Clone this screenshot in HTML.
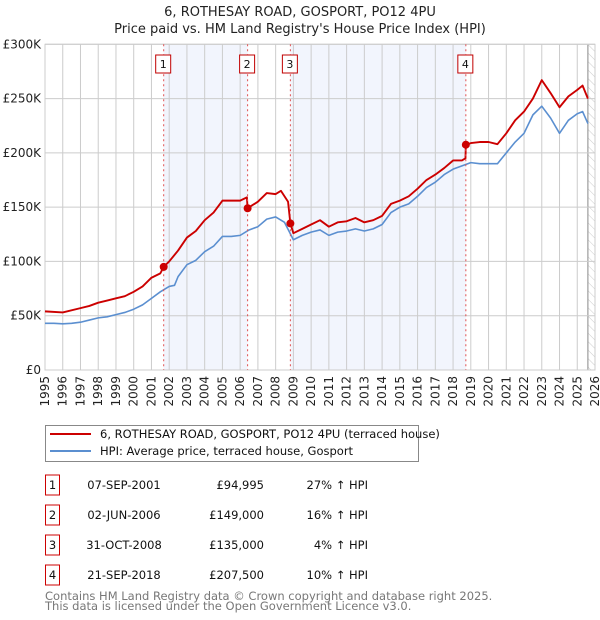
<!DOCTYPE html>
<html><head><meta charset="utf-8"><style>
html,body{margin:0;padding:0;background:#fff;}
svg{display:block;font-family:"DejaVu Sans","Liberation Sans",sans-serif;}
</style></head><body>
<svg id="chart" width="600" height="620" viewBox="0 0 600 620">
<defs>
<pattern id="hatch" width="6" height="6" patternUnits="userSpaceOnUse" patternTransform="rotate(-45)">
<line x1="0" y1="0" x2="0" y2="6" stroke="#ccc" stroke-width="1"/>
</pattern>
</defs>
<text x="300" y="16" text-anchor="middle" font-size="13" fill="#222">6, ROTHESAY ROAD, GOSPORT, PO12 4PU</text>
<text x="300" y="33" text-anchor="middle" font-size="13" fill="#222">Price paid vs. HM Land Registry's House Price Index (HPI)</text>
<g id="shade"></g>
<g id="grid"></g>
<g id="series"></g>
<g id="markers"></g>
<g id="legend">
<rect x="45.5" y="425.5" width="373" height="36" fill="#fff" stroke="#888"/>
<line x1="50" y1="434" x2="91" y2="434" stroke="#cc0000" stroke-width="2"/>
<text x="100" y="438" font-size="11.5" fill="#111">6, ROTHESAY ROAD, GOSPORT, PO12 4PU (terraced house)</text>
<line x1="50" y1="451" x2="91" y2="451" stroke="#5b8fd0" stroke-width="2"/>
<text x="100" y="455" font-size="11.5" fill="#111">HPI: Average price, terraced house, Gosport</text>
</g>
<g id="table" font-size="11.5" fill="#111"></g>
<text x="45" y="600" font-size="11.5" fill="#777">Contains HM Land Registry data © Crown copyright and database right 2025.</text>
<text x="45" y="610" font-size="11.5" fill="#777">This data is licensed under the Open Government Licence v3.0.</text>
</svg>
<script>
const hpiYears=[1995,1995.5,1996,1996.5,1997,1997.5,1998,1998.5,1999,1999.5,2000,2000.5,2001,2001.5,2002,2002.3,2002.5,2003,2003.5,2004,2004.5,2005,2005.5,2006,2006.5,2007,2007.5,2008,2008.5,2009,2009.5,2010,2010.5,2011,2011.5,2012,2012.5,2013,2013.5,2014,2014.5,2015,2015.5,2016,2016.5,2017,2017.5,2018,2018.5,2019,2019.5,2020,2020.5,2021,2021.5,2022,2022.5,2023,2023.5,2024,2024.5,2025,2025.3,2025.6];
const hpiValues=[43,43,42.5,43,44,46,48,49,51,53,56,60,66,72,77,78,86,97,101,109,114,123,123,124,129,132,139,141,136,120,124,127,129,124,127,128,130,128,130,134,145,150,153,160,168,173,180,185,188,191,190,190,190,200,210,218,235,243,232,218,230,236,238,227];
const redYears=[1995,1996,1997,1997.5,1998,1998.5,1999,1999.5,2000,2000.5,2001,2001.5,2001.69,2002,2002.5,2003,2003.5,2004,2004.5,2005,2005.5,2006,2006.38,2006.42,2007,2007.5,2008,2008.3,2008.7,2008.83,2009,2009.5,2010,2010.5,2011,2011.5,2012,2012.5,2013,2013.5,2014,2014.5,2015,2015.5,2016,2016.5,2017,2017.5,2018,2018.5,2018.7,2018.72,2019,2019.5,2020,2020.5,2021,2021.5,2022,2022.5,2023,2023.5,2024,2024.5,2025,2025.3,2025.6];
const redValues=[54,53,57,59,62,64,66,68,72,77,85,89,95,100,110,122,128,138,145,156,156,156,159,149,155,163,162,165,155,135,126,130,134,138,132,136,137,140,136,138,142,153,156,160,167,175,180,186,193,193,195,207.5,209,210,210,208,218,230,238,250,267,255,242,252,258,262,250];
const saleLabels=["1","2","3","4"];
const saleYears=[2001.69,2006.42,2008.83,2018.72];
const salePrices=[94995,149000,135000,207500];
const saleDates=["07-SEP-2001","02-JUN-2006","31-OCT-2008","21-SEP-2018"];
const salePriceText=["£94,995","£149,000","£135,000","£207,500"];
const saleHpiText=["27% ↑ HPI","16% ↑ HPI","4% ↑ HPI","10% ↑ HPI"];
const yTicks=[0,50,100,150,200,250,300];
const yTickLabels=["£0","£50K","£100K","£150K","£200K","£250K","£300K"];
const xTickYears=[1995,1996,1997,1998,1999,2000,2001,2002,2003,2004,2005,2006,2007,2008,2009,2010,2011,2012,2013,2014,2015,2016,2017,2018,2019,2020,2021,2022,2023,2024,2025,2026];

const NS="http://www.w3.org/2000/svg";
const L=45,R=595,T=44.3,B=370,X0=1995,X1=2026,YMAX=300,DATA_END=2025.6;
const xs=y=>L+(y-X0)/(X1-X0)*(R-L);
const ys=v=>B-v/YMAX*(B-T);
function mk(parent,tag,attrs){const e=document.createElementNS(NS,tag);for(const k in attrs)e.setAttribute(k,attrs[k]);document.getElementById(parent).appendChild(e);return e;}

const sh1=mk('shade','rect',{x:xs(saleYears[0]),y:T,width:xs(saleYears[1])-xs(saleYears[0]),height:B-T,fill:'#f2f5fd'});


const sh2=mk('shade','rect',{x:xs(saleYears[2]),y:T,width:xs(saleYears[3])-xs(saleYears[2]),height:B-T,fill:'#f2f5fd'});


const hz=mk('shade','rect',{x:xs(DATA_END),y:T,width:R-xs(DATA_END),height:B-T,fill:'url(#hatch)'});


const el=mk('shade','line',{x1:xs(DATA_END),y1:T,x2:xs(DATA_END),y2:B,stroke:'#888'});



xTickYears.forEach(yr=>{
  const g=mk('grid','line',{x1:xs(yr),y1:T,x2:xs(yr),y2:B,stroke:'#ccc'});
  
  
  const t=mk('grid','text',{x:0,y:0,transform:`translate(${xs(yr)+4},${B+6}) rotate(-90)`,'text-anchor':'end','font-size':'12',fill:'#222'});
  t.textContent=yr;
  
  
});
yTicks.forEach((v,i)=>{
  const g=mk('grid','line',{x1:L,y1:ys(v),x2:R,y2:ys(v),stroke:'#ccc'});
  
  
  const t=mk('grid','text',{x:L-4,y:ys(v)+4,'text-anchor':'end','font-size':'12',fill:'#222'});
  t.textContent=yTickLabels[i];
  
  
});
const fr=mk('grid','rect',{x:L,y:T,width:R-L,height:B-T,fill:'none',stroke:'#ccc'});



const hp=mk('series','polyline',{points:hpiYears.map((y,i)=>xs(y)+','+ys(hpiValues[i])).join(' '),fill:'none',stroke:'#5b8fd0','stroke-width':1.6,'stroke-linejoin':'round'});


const rp=mk('series','polyline',{points:redYears.map((y,i)=>xs(y)+','+ys(redValues[i])).join(' '),fill:'none',stroke:'#cc0000','stroke-width':1.9,'stroke-linejoin':'round'});



saleYears.forEach((yr,i)=>{
  const x=xs(yr);
  const vl=mk('markers','line',{x1:x,y1:T,x2:x,y2:B,stroke:'#e05050','stroke-dasharray':'2,3','stroke-width':1});
  
  
  const d=mk('markers','circle',{cx:x,cy:ys(salePrices[i]/1000),r:4,fill:'#cc0000'});
  
  
  const b=mk('markers','rect',{x:x-8,y:55,width:15,height:18,fill:'#fff',stroke:'#c00000'});
  
  
  const t=mk('markers','text',{x:x-0.5,y:68,'text-anchor':'middle','font-size':'11',fill:'#111'});
  t.textContent=saleLabels[i];
  
  
});

saleLabels.forEach((lb,i)=>{
  const y=485+i*30;
  const b=mk('table','rect',{x:45.5,y:y-10,width:14,height:20,fill:'#fff',stroke:'#cc0000'});
  
  
  const t0=mk('table','text',{x:52.5,y:y+4,'text-anchor':'middle'});t0.textContent=lb;
  
  
  const t1=mk('table','text',{x:124,y:y+4,'text-anchor':'middle'});t1.textContent=saleDates[i];
  
  
  const t2=mk('table','text',{x:264,y:y+4,'text-anchor':'end'});t2.textContent=salePriceText[i];
  
  
  const t3=mk('table','text',{x:368,y:y+4,'text-anchor':'end'});t3.textContent=saleHpiText[i];
  
  
});
</script>
</body></html>
